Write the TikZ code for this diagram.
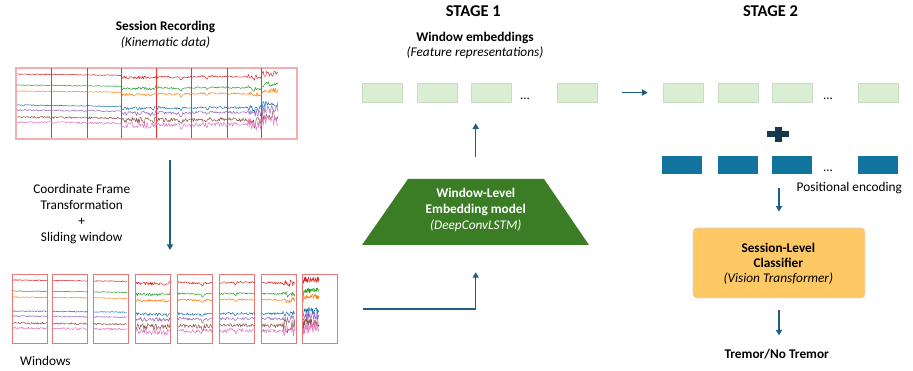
\documentclass[tikz,border=0pt]{standalone}
\usepackage{fontspec}
\setmainfont{Carlito}
\usetikzlibrary{arrows.meta,calc}

% palette
\definecolor{arrowblue}{RGB}{31,94,128}
\definecolor{trapgreen}{RGB}{58,125,36}
\definecolor{embfill}{RGB}{217,238,211}
\definecolor{embline}{RGB}{200,222,192}
\definecolor{posblue}{RGB}{16,116,158}
\definecolor{plusnavy}{RGB}{22,56,75}
\definecolor{clsfill}{RGB}{254,200,100}
\definecolor{clsline}{RGB}{225,215,195}
\definecolor{framepink}{RGB}{244,176,176}
\definecolor{winframe}{RGB}{232,120,120}
\definecolor{cutred}{RGB}{255,45,45}
% signal colours
\definecolor{sred}{HTML}{D62728}
\definecolor{sgreen}{HTML}{2CA02C}
\definecolor{sorange}{HTML}{FF7F0E}
\definecolor{sblue}{HTML}{1F77B4}
\definecolor{spurple}{HTML}{9467BD}
\definecolor{sbrown}{HTML}{8C564B}
\definecolor{spink}{HTML}{E377C2}

\tikzset{
  txt/.style={inner sep=0pt, anchor=base, font=\fontsize{13.3}{16}\selectfont},
  txtb/.style={txt, font=\fontsize{13.3}{16}\selectfont\bfseries},
  txti/.style={txt, font=\fontsize{13.3}{16}\selectfont\itshape},
  stagetitle/.style={inner sep=0pt, anchor=base, font=\fontsize{16.5}{20}\selectfont\bfseries},
  flow/.style={arrowblue, line width=1.5pt, -{Triangle[length=5.5pt,width=6pt]}},
  embbox/.style={fill=embfill, draw=embline, line width=0.6pt, minimum width=40pt, minimum height=19pt, inner sep=0pt},
  posbox/.style={fill=posblue, draw=none, minimum width=40pt, minimum height=18pt, inner sep=0pt},
  winbox/.style={draw=winframe, line width=0.8pt, minimum width=35pt, minimum height=69pt, inner sep=0pt},
  dots/.style={inner sep=0pt, anchor=base, font=\fontsize{13}{16}\selectfont},
  declare function={
    tr(\u) = 0.012*(\u-16) + 2*(\u>121)*(\u<158)
             + 1.5*max(0,1-abs(\u-175)/30)
             + 3*max(0,1-abs(\u-181)/2) - 3*max(0,1-abs(\u-156)/2)
             + 2.5*max(0,1-abs(\u-207)/2) + 3*max(0,1-abs(\u-254)/2)
             - 3.5*(\u>262);
    am(\u) = 0.5 + 1.2*(\u>121)*(\u<156) + 0.55*(\u>=156) + 2.2*(\u>248);
  }
}

% one noisy trace: colour, u-from, u-to, x-shift, y-base, noise factor, samples
\newcommand\sigtrace[7]{%
  \draw[#1, line width=0.5pt, line join=round]
    plot[domain=#2:#3, samples=#7, variable=\u]
      ({\u+#4}, {#5 + tr(\u) + #6*am(\u)*rand});
}
% the seven channels of one segment: u-from, u-to, x-shift, y-top, samples
\newcommand\channels[5]{%
  \sigtrace{sred}{#1}{#2}{#3}{#4+6}{0.9}{#5}
  \sigtrace{sgreen}{#1}{#2}{#3}{#4+17}{0.8}{#5}
  \sigtrace{sorange}{#1}{#2}{#3}{#4+23}{0.8}{#5}
  \sigtrace{sblue}{#1}{#2}{#3}{#4+37}{1.0}{#5}
  \sigtrace{spurple}{#1}{#2}{#3}{#4+42}{1.3}{#5}
  \sigtrace{sbrown}{#1}{#2}{#3}{#4+49}{1.9}{#5}
  \sigtrace{spink}{#1}{#2}{#3}{#4+54}{2.1}{#5}
}

\begin{document}
\begin{tikzpicture}[x=1pt, y=-1pt]
\useasboundingbox (0,0) rectangle (913,371);
\pgfmathsetseed{7}

% ---------------- session recording ----------------
\node[txtb] (rectitle) at (165.5,31) {Session Recording};
\node[txti] (recsub) at (165.5,46.5) {(Kinematic data)};

\node[draw=framepink, line width=1.6pt, minimum width=281pt, minimum height=71pt, inner sep=0pt]
  (rec) at (156.5,103.5) {};
% segment boundaries of the sliding window
\foreach \cx in {51,87,121,156,191,227,261}
  \fill[cutred] (\cx,68.5) rectangle ++(1.1,70);
\channels{17}{278}{0}{68}{300}

% transformation step
\coordinate (tstart) at (170,160);
\coordinate (tend) at (170,250);
\draw[flow] (tstart) -- (tend);
\node[txt] (t1) at (81.7,193.3) {Coordinate Frame};
\node[txt] (t2) at (81.7,209.3) {Transformation};
\node[txt] (t3) at (81.7,225.3) {+};
\node[txt] (t4) at (81.7,241.3) {Sliding window};

% ---------------- windows ----------------
\foreach \i/\wl/\sl/\sr in {1/12/16/51, 2/52/51/87, 3/93/87/121, 4/135/121/156,
                             5/177/156/191, 6/219/191/227, 7/261/227/261, 8/302/261/278} {
  \node[winbox, anchor=north west] (w\i) at (\wl,274) {};
  \pgfmathsetmacro\dx{\wl-\sl+0.5}
  \channels{\sl+0.5}{\sr-0.5}{\dx}{274}{45}
}
\node[txt, anchor=base west] (wlabel) at (20,366) {Windows};

% ---------------- stage 1 ----------------
\node[stagetitle] (s1) at (473.3,17) {STAGE 1};
\node[txtb] (e1) at (475,42) {Window embeddings};
\node[txti] (e2) at (475,56.5) {(Feature representations)};

\node[embbox] (a1) at (382,92.5) {};
\node[embbox] (a2) at (437,92.5) {};
\node[embbox] (a3) at (491,92.5) {};
\node[dots] (adots) at (525,100) {...};
\node[embbox] (a4) at (577,92.5) {};

% embedding model
\fill[trapgreen] (362,245) -- (589,245) -- (544,179) -- (408,179) -- cycle;
\node[inner sep=0pt, minimum width=227pt, minimum height=66pt] (model) at (475.7,212) {};
\node[txtb, text=white] (m1) at (475.8,197.7) {Window-Level};
\node[txtb, text=white] (m2) at (475.8,213.5) {Embedding model};
\node[txti, text=white] (m3) at (475.8,229.5) {(DeepConvLSTM)};

\coordinate (wout) at (363,309);
\draw[flow] (wout) -| ([yshift=-27pt]model.south);
\draw[flow] ([yshift=22pt]model.north) -- ([yshift=-21pt]model.north |- a3.south);

% ---------------- stage 2 ----------------
\node[stagetitle] (s2) at (770.5,17) {STAGE 2};

\node[embbox] (b1) at (683,92.5) {};
\node[embbox] (b2) at (738,92.5) {};
\node[embbox] (b3) at (792,92.5) {};
\node[dots] (bdots) at (828,100) {...};
\node[embbox] (b4) at (878,92.5) {};

\draw[flow] ([xshift=25pt]a4.east) -- ([xshift=-15pt]b1.west);

% plus sign
\node[inner sep=0pt, minimum size=22pt] (plus) at (778,134.5) {};
\fill[plusnavy] (767,131.5) rectangle (789,137.5);
\fill[plusnavy] (774.5,127) rectangle (781.5,142);

\node[posbox] (p1) at (682,165) {};
\node[posbox] (p2) at (738,165) {};
\node[posbox] (p3) at (792,165) {};
\node[dots] (pdots) at (828,172) {...};
\node[posbox] (p4) at (877.5,165) {};
\node[txt] (plabel) at (849.3,191.3) {Positional encoding};

% classifier
\node[fill=clsfill, draw=clsline, line width=0.8pt, rounded corners=4pt,
      minimum width=172pt, minimum height=70pt, inner sep=0pt] (cls) at (779,263) {};
\node[txtb] (c1) at (778.3,252.3) {Session-Level};
\node[txtb] (c2) at (778.3,267.7) {Classifier};
\node[txti] (c3) at (778.3,283) {(Vision Transformer)};

\draw[flow] ([yshift=-14pt]p3.south -| cls.north) -- ([yshift=16pt]cls.north);
\draw[flow] ([yshift=-12pt]cls.south) -- ([yshift=-37pt]cls.south);
\node[txtb] (out) at (776.7,358.7) {Tremor/No Tremor};
\end{tikzpicture}
\end{document}
